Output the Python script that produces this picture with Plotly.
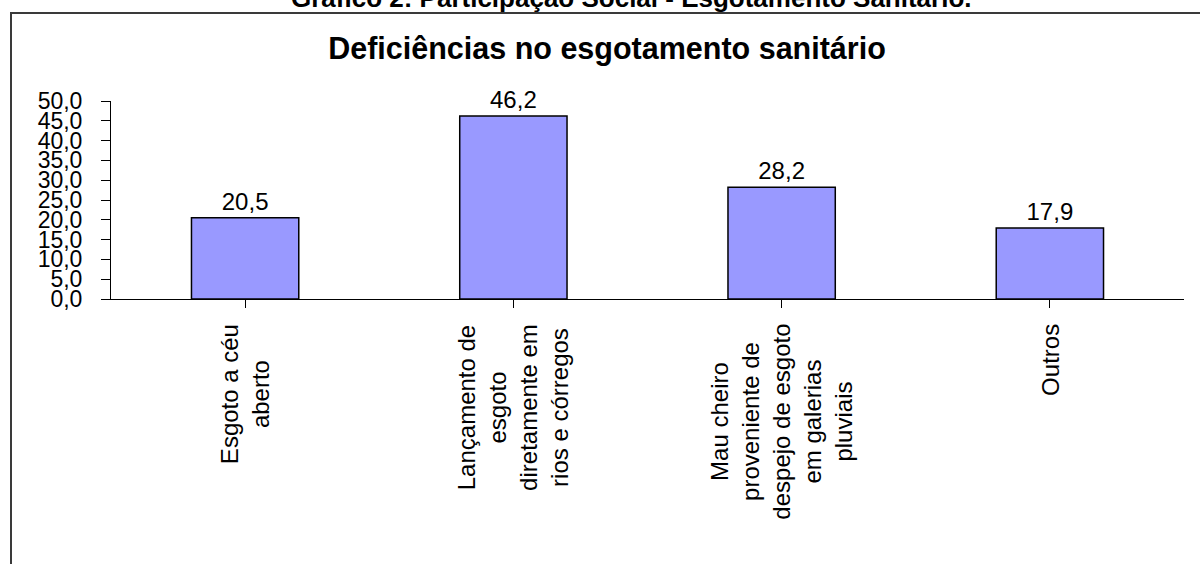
import plotly.graph_objects as go

# Data
categorias = [
    "Esgoto a céu<br>aberto",
    "Lançamento de<br>esgoto<br>diretamente em<br>rios e córregos",
    "Mau cheiro<br>proveniente de<br>despejo de esgoto<br>em galerias<br>pluviais",
    "Outros",
]
percentuais = [20.5, 46.2, 28.2, 17.9]
y_ticks = [0, 5, 10, 15, 20, 25, 30, 35, 40, 45, 50]

titulo_grafico = "Deficiências no esgotamento sanitário"
titulo_figura = "Gráfico 2: Participação Social - Esgotamento Sanitário."

FONT = "Arial, Liberation Sans, sans-serif"
W, H = 1200, 564
PLOT_L, PLOT_R, PLOT_T, PLOT_B = 111, 1184, 101, 299


def px_to_paper_x(px):
    return (px - PLOT_L) / (PLOT_R - PLOT_L)


def px_to_paper_y(py):
    return (PLOT_B - py) / (PLOT_B - PLOT_T)


keys = list(range(len(categorias)))

fig = go.Figure()
fig.add_trace(
    go.Bar(
        x=keys,
        y=percentuais,
        width=0.4,
        marker=dict(color="#9999FF", line=dict(color="#000000", width=1.5)),
        text=percentuais,
        texttemplate="%{y:.1f}",
        textposition="outside",
        textfont=dict(family=FONT, size=24, color="#000000"),
        cliponaxis=False,
        hoverinfo="skip",
    )
)

# Category labels, rotated with centred lines
for k, cat in zip(keys, categorias):
    fig.add_annotation(
        x=k,
        xref="x",
        y=px_to_paper_y(322),
        yref="paper",
        text=cat,
        textangle=-90,
        align="center",
        xanchor="center",
        yanchor="top",
        showarrow=False,
        font=dict(family=FONT, size=24, color="#000000"),
    )

# Figure caption (partly above the page edge)
fig.add_annotation(
    x=px_to_paper_x(631),
    xref="paper",
    y=px_to_paper_y(-2),
    yref="paper",
    text="<b>" + titulo_figura + "</b>",
    xanchor="center",
    yanchor="middle",
    showarrow=False,
    font=dict(family=FONT, size=26, color="#000000"),
)

# Chart frame (left and top edges inside the page)
fig.add_shape(
    type="rect",
    xref="paper",
    yref="paper",
    x0=px_to_paper_x(11),
    x1=px_to_paper_x(1215),
    y0=px_to_paper_y(600),
    y1=px_to_paper_y(13),
    line=dict(color="#3a3a3a", width=2),
    fillcolor="rgba(0,0,0,0)",
    layer="below",
)

fig.update_layout(
    width=W,
    height=H,
    margin=dict(l=PLOT_L, r=W - PLOT_R, t=PLOT_T, b=H - PLOT_B, autoexpand=False),
    paper_bgcolor="#ffffff",
    plot_bgcolor="#ffffff",
    separators=", ",
    showlegend=False,
    title=dict(
        text="<b>" + titulo_grafico + "</b>",
        x=607 / W,
        xanchor="center",
        y=1 - 48 / H,
        yanchor="middle",
        font=dict(family=FONT, size=30.5, color="#000000"),
    ),
    bargap=0.6,
)

fig.update_xaxes(
    range=[-0.5, len(categorias) - 0.5],
    tickmode="array",
    tickvals=keys,
    showticklabels=False,
    ticks="outside",
    tickson="boundaries",
    ticklen=8,
    tickcolor="#000000",
    showline=True,
    linecolor="#000000",
    linewidth=1,
    showgrid=False,
    zeroline=False,
    fixedrange=True,
)

fig.update_yaxes(
    range=[0, 50],
    tickmode="array",
    tickvals=y_ticks,
    tickformat=".1f",
    ticks="outside",
    ticklen=9,
    tickcolor="#000000",
    ticklabelstandoff=14,
    tickfont=dict(family=FONT, size=23, color="#000000"),
    showline=True,
    linecolor="#000000",
    linewidth=1,
    showgrid=False,
    zeroline=False,
    fixedrange=True,
)

fig.write_html("out.html")
